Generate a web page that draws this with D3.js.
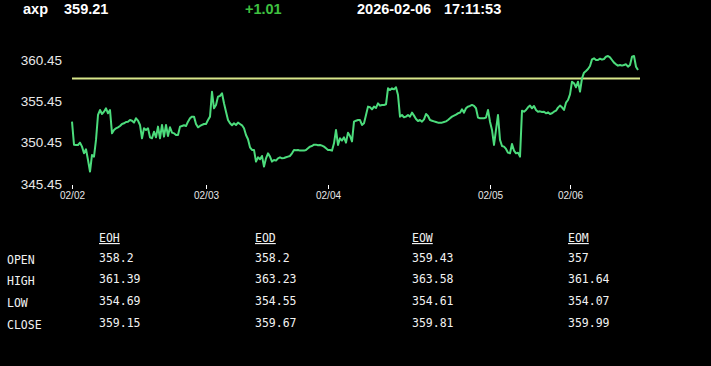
<!DOCTYPE html>
<html>
<head>
<meta charset="utf-8">
<script src="https://cdn.jsdelivr.net/npm/d3@7"></script>
<style>
  html, body { margin: 0; padding: 0; background: #000; }
  svg { display: block; }
</style>
</head>
<body>
<svg id="chart" width="711" height="366"></svg>
<script>
// header
const symbol = "axp";
const lastPrice = "359.21";
const change = "+1.01";
const quoteDate = "2026-02-06";
const quoteTime = "17:11:53";

// intraday prices, one sample per bar
const prices = [
  353.0, 350.2, 350.17, 350.17, 350.45, 349.97, 349.16, 349.65, 348.36, 346.95,
  348.96, 348.76, 350.78, 353.8, 354.4, 353.92, 354.2, 354.61, 354.0, 354.4,
  351.58, 351.99, 352.19, 352.31, 352.47, 352.71, 352.79, 352.95, 352.99, 353.19,
  353.11, 352.87, 353.4, 353.11, 352.59, 350.98, 352.19, 351.99, 352.19, 351.1,
  350.98, 351.78, 351.1, 352.39, 350.98, 352.59, 351.18, 352.59, 351.26, 352.31,
  351.66, 351.58, 351.38, 351.38, 352.39, 352.47, 352.55, 352.47, 352.99, 353.4,
  353.6, 353.6, 352.71, 352.31, 352.47, 352.59, 352.71, 352.71, 353.19, 353.6,
  356.6, 354.61, 355.01, 356.02, 356.1, 356.42, 355.21, 354.2, 353.19, 352.79,
  352.55, 352.79, 352.59, 352.87, 352.71, 352.55, 352.19, 351.38, 350.86, 349.89,
  349.57, 349.57, 348.16, 348.68, 348.44, 348.84, 347.55, 348.56, 349.16, 348.76,
  348.16, 348.36, 348.28, 348.56, 348.68, 348.56, 348.6, 348.68, 348.76, 348.84,
  349.16, 349.57, 349.53, 349.57, 349.49, 349.49, 349.49, 349.57, 349.77, 349.97,
  350.05, 350.21, 350.21, 350.13, 350.17, 350.09, 349.97, 349.77, 349.57, 349.57,
  349.49, 350.37, 351.99, 350.17, 350.98, 350.7, 351.1, 350.45, 351.66, 351.26,
  350.6, 352.99, 353.11, 353.19, 353.19, 352.59, 352.79, 353.8, 354.81, 354.73,
  354.48, 354.81, 354.65, 355.21, 354.93, 355.01, 355.01, 355.09, 357.02, 356.82,
  357.02, 356.9, 357.15, 356.22, 353.6, 353.8, 353.52, 353.6, 353.8, 353.6,
  354.08, 353.72, 353.32, 353.07, 353.19, 352.99, 353.27, 353.92, 353.68, 353.19,
  353.11, 353.03, 352.95, 352.87, 352.87, 352.87, 352.95, 353.03, 353.19, 353.4,
  353.6, 353.72, 353.84, 354.0, 354.08, 354.48, 354.08, 354.61, 354.81, 354.89,
  355.01, 354.89, 354.61, 353.48, 353.4, 353.4, 353.4, 353.48, 354.4, 352.99,
  351.99, 350.17, 351.99, 353.8, 350.78, 350.05, 349.97, 349.69, 349.24, 349.16,
  350.29, 349.49, 349.16, 349.24, 348.76, 354.32, 354.2, 354.4, 354.73, 354.93,
  354.61, 354.89, 354.4, 354.2, 354.24, 354.16, 354.2, 354.0, 354.12, 353.92,
  354.0, 354.2, 354.32, 354.69, 354.93, 354.73, 354.4, 355.29, 355.61, 356.3,
  357.83, 357.63, 357.15, 357.83, 356.62, 358.23, 358.92, 359.12, 359.36, 359.73,
  360.53, 360.65, 360.45, 360.45, 360.61, 360.49, 360.57, 360.85, 360.93, 360.77,
  360.45, 360.13, 359.93, 359.77, 359.85, 359.77, 359.85, 359.93, 359.64, 359.85,
  360.85, 360.93, 359.64, 359.24
];

// previous close reference
const prevClose = 358.2;

// axes
const yTicks = [345.45, 350.45, 355.45, 360.45];
const dayStarts = [0, 67, 128, 209, 249];
const dayLabels = ["02/02", "02/03", "02/04", "02/05", "02/06"];

// summary table
const periods = ["EOH", "EOD", "EOW", "EOM"];
const rowNames = ["OPEN", "HIGH", "LOW", "CLOSE"];
const openVals = ["358.2", "358.2", "359.43", "357"];
const highVals = ["361.39", "363.23", "363.58", "361.64"];
const lowVals = ["354.69", "354.55", "354.61", "354.07"];
const closeVals = ["359.15", "359.67", "359.81", "359.99"];

const svg = d3.select("#chart");

// header line
const head = svg.append("g")
  .attr("font-family", "Liberation Sans, Arial, sans-serif")
  .attr("font-size", "14.5px")
  .attr("font-weight", "bold")
  .attr("fill", "#fff");

head.append("text").attr("x", 23).attr("y", 14).text(symbol);
head.append("text").attr("x", 64).attr("y", 14).text(lastPrice);
head.append("text").attr("x", 245).attr("y", 14).attr("fill", "#3fc040").text(change);
head.append("text").attr("x", 357).attr("y", 14).text(quoteDate);
head.append("text").attr("x", 444).attr("y", 14).text(quoteTime);

// scales
const x = d3.scaleLinear().domain([0, prices.length - 1]).range([72, 638]);
const y = d3.scaleLinear().domain([345.45, 360.45]).range([184, 60]);

// y axis labels
svg.append("g")
  .selectAll("text")
  .data(yTicks)
  .join("text")
  .attr("x", 62)
  .attr("y", d => y(d))
  .attr("dy", "0.35em")
  .attr("text-anchor", "end")
  .attr("font-family", "Liberation Sans, Arial, sans-serif")
  .attr("font-size", "13.5px")
  .attr("fill", "#e8e8e8")
  .text(d => d.toFixed(2));

// x axis: small ticks + day labels
const xAxis = d3.axisBottom(x)
  .tickValues(dayStarts)
  .tickFormat((d, i) => dayLabels[i])
  .tickSize(4)
  .tickPadding(3);

const gx = svg.append("g")
  .attr("transform", "translate(0,185)")
  .call(xAxis);

gx.select(".domain").remove();
gx.selectAll("line").attr("stroke", "#fff");
gx.selectAll("text")
  .attr("fill", "#e8e8e8")
  .attr("font-family", "Liberation Sans, Arial, sans-serif")
  .attr("font-size", "10px");

// previous close line
svg.append("line")
  .attr("x1", x(0))
  .attr("x2", x(prices.length))
  .attr("y1", y(prevClose))
  .attr("y2", y(prevClose))
  .attr("stroke", "#d8e68a")
  .attr("stroke-width", 2);

// price line
const line = d3.line()
  .x((d, i) => x(i))
  .y(d => y(d));

svg.append("path")
  .datum(prices)
  .attr("d", line)
  .attr("fill", "none")
  .attr("stroke", "#4cdc7c")
  .attr("stroke-width", 2)
  .attr("stroke-linejoin", "round");

// table
const colX = [99, 255, 412, 568];
const rowY = [263, 284, 306, 328];
const rows = [openVals, highVals, lowVals, closeVals];

const tbl = svg.append("g")
  .attr("font-family", "DejaVu Sans Mono, monospace")
  .attr("font-size", "11.5px")
  .attr("fill", "#f2f2f2");

tbl.selectAll("text.hdr")
  .data(periods)
  .join("text")
  .attr("class", "hdr")
  .attr("x", (d, i) => colX[i])
  .attr("y", 242)
  .attr("text-decoration", "underline")
  .text(d => d);

tbl.selectAll("text.rowname")
  .data(rowNames)
  .join("text")
  .attr("class", "rowname")
  .attr("x", 7)
  .attr("y", (d, i) => rowY[i] + 1)
  .text(d => d);

rows.forEach((vals, r) => {
  tbl.selectAll("text.r" + r)
    .data(vals)
    .join("text")
    .attr("class", "r" + r)
    .attr("x", (d, i) => colX[i])
    .attr("y", rowY[r] - 1)
    .text(d => d);
});
</script>
</body>
</html>
